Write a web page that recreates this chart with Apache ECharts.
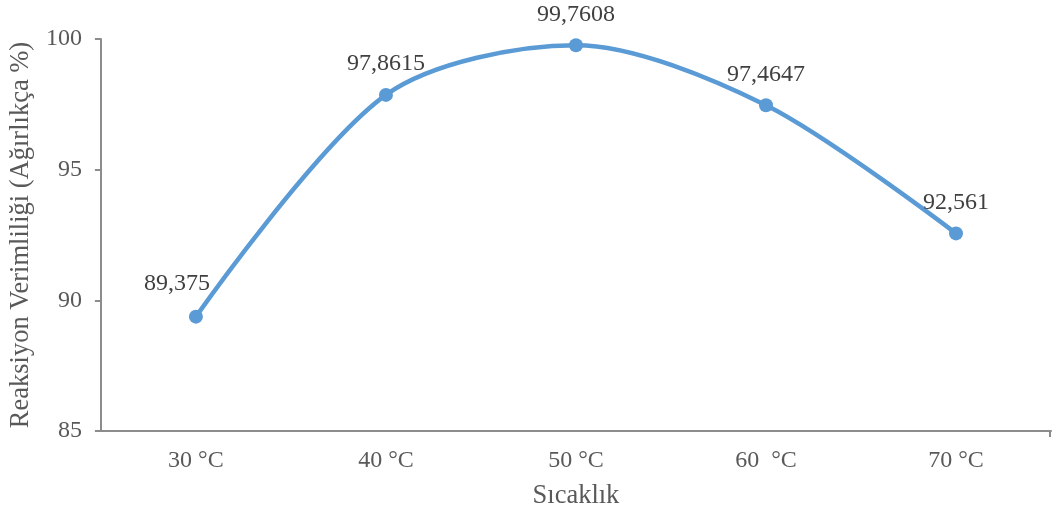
<!DOCTYPE html>
<html>
<head>
<meta charset="utf-8">
<script src="https://cdn.jsdelivr.net/npm/echarts@6/dist/echarts.min.js"></script>
<style>
  html, body { margin: 0; padding: 0; background: #fff; }
  #chart { width: 1052px; height: 515px; }
</style>
</head>
<body>
<div id="chart"></div>
<script>
// Reaction yield by temperature
const categories = ['30 °C', '40 °C', '50 °C', '60  °C', '70 °C'];
const yieldValues = [89.375, 97.8615, 99.7608, 97.4647, 92.561];
const yTicks = { min: 85, max: 100, interval: 5 };

const axisGrey = '#8c8c8c';
const labelGrey = '#595959';
const serif = '"Liberation Serif", "Times New Roman", serif';

const fmt = v => String(v).replace('.', ',');

const chart = echarts.init(document.getElementById('chart'));
chart.setOption({
  animation: false,
  grid: { left: 99, right: 1, top: 39, bottom: 83 },
  xAxis: {
    type: 'category',
    data: categories,
    boundaryGap: true,
    name: 'Sıcaklık',
    nameLocation: 'middle',
    nameGap: 52,
    nameTextStyle: { fontFamily: serif, fontSize: 26.5, color: labelGrey },
    axisLine: { lineStyle: { color: axisGrey, width: 2 } },
    axisTick: { alignWithLabel: true, length: 6, lineStyle: { color: axisGrey, width: 2 } },
    axisLabel: { fontFamily: serif, fontSize: 24, color: labelGrey, margin: 18 }
  },
  yAxis: {
    type: 'value',
    min: yTicks.min,
    max: yTicks.max,
    interval: yTicks.interval,
    name: 'Reaksiyon Verimliliği (Ağırlıkça %)',
    nameLocation: 'middle',
    nameGap: 63,
    nameTextStyle: { fontFamily: serif, fontSize: 26.5, color: labelGrey },
    axisLine: { show: true, lineStyle: { color: axisGrey, width: 2 } },
    axisTick: { show: true, length: 6, lineStyle: { color: axisGrey, width: 2 } },
    splitLine: { show: false },
    axisLabel: { fontFamily: serif, fontSize: 24, color: labelGrey, margin: 19 }
  },
  series: [{
    type: 'line',
    data: yieldValues.map((v, i) => i === 0
      ? { value: v, label: { position: 'top', offset: [-19, -2] } }
      : v),
    smooth: 0.3,
    symbol: 'circle',
    symbolSize: 14,
    lineStyle: { color: '#5b9bd5', width: 4.5 },
    itemStyle: { color: '#5b9bd5' },
    label: {
      show: true,
      position: 'top',
      distance: 12,
      fontFamily: serif,
      fontSize: 24,
      color: '#404040',
      formatter: p => fmt(p.value)
    }
  }]
});

// closing tick at the right end of the category axis
const rightEnd = chart.convertToPixel({ gridIndex: 0 }, [categories.length - 1, yTicks.min]);
const halfBand = (chart.convertToPixel({ xAxisIndex: 0 }, 1) - chart.convertToPixel({ xAxisIndex: 0 }, 0)) / 2;
chart.setOption({
  graphic: [{
    type: 'line',
    shape: { x1: rightEnd[0] + halfBand - 1, y1: rightEnd[1], x2: rightEnd[0] + halfBand - 1, y2: rightEnd[1] + 6 },
    style: { stroke: axisGrey, lineWidth: 2 }
  }]
});
</script>
</body>
</html>
